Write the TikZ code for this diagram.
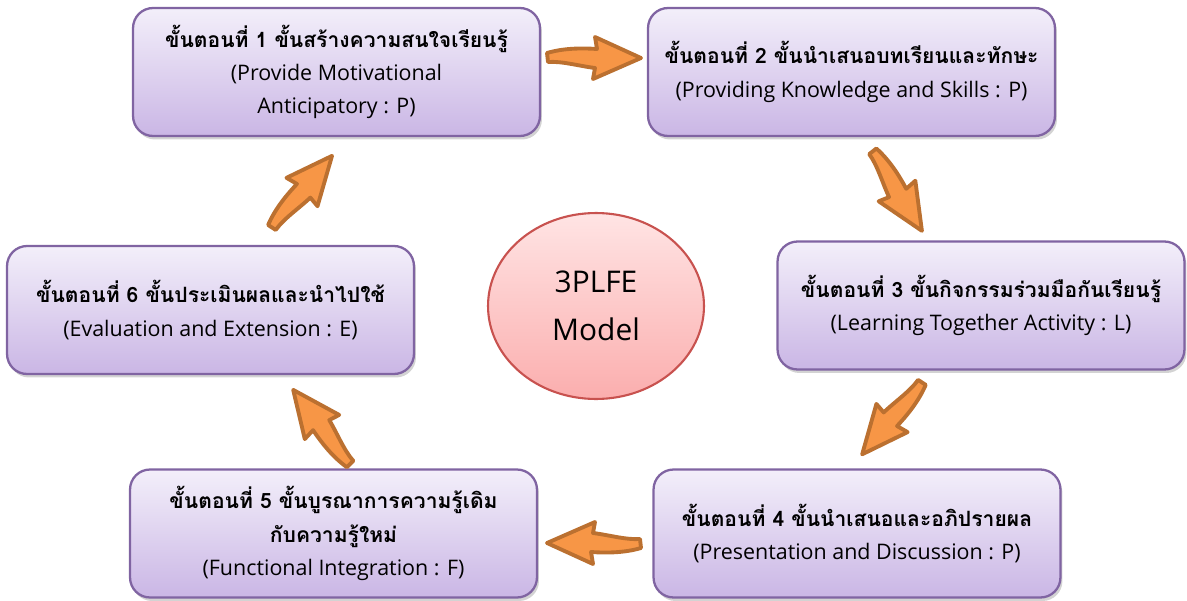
\documentclass[tikz,border=0pt]{standalone}
\usepackage{fontspec}
\setmainfont[Script=Thai]{Loma}
\newfontfamily\latinfont{Open Sans}
\usepackage{xcolor}
\usepackage{tikz}
\usetikzlibrary{shapes.geometric,shadows}

\definecolor{boxedge}{HTML}{8064A2}
\definecolor{boxtop}{HTML}{F3EFFA}
\definecolor{boxbottom}{HTML}{CAB6E5}
\definecolor{hubedge}{HTML}{C8524F}
\definecolor{hubtop}{HTML}{FFE4E4}
\definecolor{hubbottom}{HTML}{FBAEAE}
\definecolor{arrowfill}{HTML}{F79646}
\definecolor{arrowedge}{HTML}{BB7030}
\newcommand{\eng}[1]{{\latinfont\mdseries\fontsize{12.2}{19}\selectfont #1}}

\tikzset{
	stepbox/.style={draw=boxedge, line width=1.3pt, rounded corners=0.4cm,
		top color=boxtop, bottom color=boxbottom,
		minimum width=8.14cm, minimum height=2.56cm, align=center,
		font=\fontsize{12}{19}\selectfont\bfseries,
		drop shadow={opacity=0.35, shadow xshift=0.04cm, shadow yshift=-0.07cm}},
	hubring/.style={ellipse, draw=hubedge, line width=1.2pt,
		top color=hubtop, bottom color=hubbottom,
		minimum width=4.32cm, minimum height=3.72cm, align=center,
		font=\latinfont\fontsize{17}{27}\selectfont},
	arrowline/.style={draw=arrowedge, fill=arrowfill, line width=2.2pt, line join=round},
	turnarrow/.pic={
		\path[arrowline] (-47,5) .. controls (-30,10) and (-12,10) .. (3,9)
			-- (1,21) -- (47,0) -- (-1,-21) -- (1,-10)
			.. controls (-15,-8) and (-32,-3) .. (-46,-4) -- cycle;
	}
}

\begin{document}
\begin{tikzpicture}[x=0.02cm, y=0.02cm]
	\useasboundingbox (0,0) rectangle (1187,600);
	
	\coordinate (A12) at (594,542); % step 1 to 2
	\coordinate (A23) at (897,409);
	\coordinate (A34) at (892,182);
	\coordinate (A45) at (594,57);
	\coordinate (A56) at (322,173);
	\coordinate (A61) at (302,408);   % back to step 1
	
	\node[stepbox] (s1) at (336.5,528)
		{ขั้นตอนที่ 1 ขั้นสร้างความสนใจเรียนรู้\\\eng{(Provide Motivational}\\\eng{Anticipatory : P)}};
	\node[stepbox] (s2) at (851.5,528)
		{ขั้นตอนที่ 2 ขั้นนำเสนอบทเรียนและทักษะ\\\eng{(Providing Knowledge and Skills : P)}};
	\node[stepbox] (s3) at (981,294.5)
		{ขั้นตอนที่ 3 ขั้นกิจกรรมร่วมมือกันเรียนรู้\\\eng{(Learning Together Activity : L)}};
	\node[stepbox] (s4) at (857,66.5)
		{ขั้นตอนที่ 4 ขั้นนำเสนอและอภิปรายผล\\\eng{(Presentation and Discussion : P)}};
	\node[stepbox] (s5) at (333.5,66.5)
		{ขั้นตอนที่ 5 ขั้นบูรณาการความรู้เดิม\\กับความรู้ใหม่\\\eng{(Functional Integration : F)}};
	\node[stepbox] (s6) at (210.5,290)
		{ขั้นตอนที่ 6 ขั้นประเมินผลและนำไปใช้\\\eng{(Evaluation and Extension : E)}};
	
	\node[hubring] (hub) at (596,294) {3PLFE\\Model};
	
	\pic at (A12) {turnarrow};
	\pic[rotate=-58] at (A23) {turnarrow};
	\pic[rotate=230.6] at (A34) {turnarrow};
	\pic[rotate=180] at (A45) {turnarrow};
	\pic[rotate=127.8] at (A56) {turnarrow};
	\pic[rotate=50.3] at (A61) {turnarrow};
	
\end{tikzpicture}
\end{document}
